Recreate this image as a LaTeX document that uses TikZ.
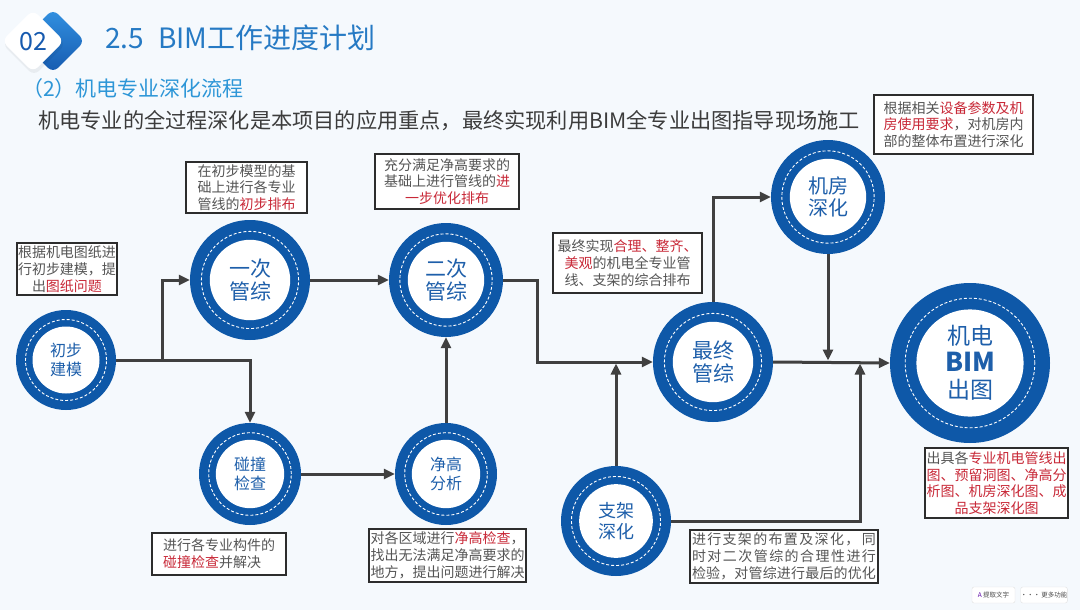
\documentclass[tikz,border=0pt]{standalone}
\usepackage{fontspec}
\setmainfont{Noto Sans CJK SC}
\usetikzlibrary{arrows.meta,calc}
\definecolor{bgcol}{RGB}{245,249,253}
\definecolor{ringblue}{RGB}{14,88,168}
\definecolor{circtext}{RGB}{30,95,170}
\definecolor{titleblue}{RGB}{38,122,196}
\definecolor{subblue}{RGB}{45,150,215}
\definecolor{subgray}{RGB}{60,60,60}
\definecolor{boxtext}{RGB}{85,85,85}
\definecolor{boxline}{RGB}{45,45,45}
\definecolor{hired}{RGB}{200,40,55}
\definecolor{conncol}{RGB}{64,64,64}
\definecolor{logoA}{RGB}{50,145,225}
\definecolor{logoB}{RGB}{22,90,175}
\newcommand{\redt}[1]{\textcolor{hired}{#1}}
\newcommand{\spreadln}[1]{\makebox[184pt][s]{#1}}
\tikzset{
  ring/.style={circle, fill=ringblue, inner sep=0pt, minimum size={2*#1*1pt},
    text=circtext, align=center,
    path picture={
      \fill[white] (path picture bounding box.center) circle[radius={0.67*#1*1pt}];
      \draw[white, line width=0.9pt, dash pattern=on 3pt off 2pt]
        (path picture bounding box.center) circle[radius={0.81*#1*1pt}];
    }},
  tbox/.style={draw=boxline, line width=1.2pt, fill=white, text=boxtext,
    font=\fontsize{14}{16.7}\selectfont, inner sep=1pt, align=center},
  arr/.style={draw=conncol, line width=3pt,
    -{Triangle[length=11pt,width=10pt]}, color=conncol},
  btn/.style={draw=black!12, fill=white, rounded corners=2pt, minimum width=43pt,
    minimum height=16pt, inner sep=0pt, text=black!70, font=\fontsize{6.5}{7}\selectfont}
}
\begin{document}
\begin{tikzpicture}[x=1pt,y=-1pt]
\useasboundingbox (0,0) rectangle (1080,610);
\fill[bgcol] (0,0) rectangle (1080,610);

% logo
\node[rectangle, rounded corners=7pt, minimum size=45pt, rotate=45,
      top color=logoA, bottom color=logoB] (logoback) at (53,41) {};
\node[rectangle, rounded corners=7pt, minimum size=45pt, rotate=45,
      fill=black, opacity=0.05] (logoshadow) at (34,44) {};
\node[rectangle, rounded corners=7pt, minimum size=44pt, rotate=45,
      fill=white] (logofront) at (33,41) {};
\node[text=logoB, font=\fontsize{25}{25}\selectfont, inner sep=0pt] (num) at (33,42) {02};

% headings
\node[anchor=west, text=titleblue, font=\fontsize{28}{28}\selectfont, inner sep=0pt]
  (title) at (105,38) {2.5\hspace{0.5em}BIM工作进度计划};
\node[anchor=west, text=subblue, font=\fontsize{21}{21}\selectfont, inner sep=0pt]
  (sec) at (22,89) {（2）机电专业深化流程};
\node[anchor=west, text=subgray, font=\fontsize{21.2}{21.2}\selectfont, inner sep=0pt]
  (lead) at (38,121) {机电专业的全过程深化是本项目的应用重点，最终实现利用BIM全专业出图指导现场施工};

% circles
\node[ring=50, font=\fontsize{16}{19}\selectfont] (chubu) at (66,360) {初步\\建模};
\node[ring=60, font=\fontsize{21}{23}\selectfont] (yici) at (250,280) {一次\\管综};
\node[ring=57, font=\fontsize{21}{23}\selectfont] (erci) at (446,280) {二次\\管综};
\node[ring=60, font=\fontsize{21}{23}\selectfont] (zuizhong) at (713,362) {最终\\管综};
\node[ring=57, font=\fontsize{20}{22}\selectfont] (jifang) at (828,197) {机房\\深化};
\node[ring=80, font=\fontsize{23}{27}\selectfont] (bim) at (970,363)
  {机电\\{\fontsize{26}{27}\selectfont\bfseries BIM}\\出图};
\node[ring=51, font=\fontsize{16}{19}\selectfont] (pengzhuang) at (250,474) {碰撞\\检查};
\node[ring=51, font=\fontsize{16}{19}\selectfont] (jinggao) at (446,474) {净高\\分析};
\node[ring=55, font=\fontsize{18}{21}\selectfont] (zhijia) at (616,521) {支架\\深化};

% junction on the main line before the final drawing
\coordinate (jb) at (860,362);

% connectors
\draw[arr] (chubu.east) -- ++(46,0) |- (yici.west);
\draw[arr] (chubu.east) -| (pengzhuang.north);
\draw[arr] (yici.east) -- (erci.west);
\draw[arr] (pengzhuang.east) -- (jinggao.west);
\draw[arr] (jinggao.north) -- (erci.south);
\draw[arr] (erci.east) -- ++(34,0) |- (zuizhong.west);
\draw[arr] (zhijia.north) -- ($(zhijia.north |- zuizhong.west)+(0,1.5)$);
\draw[arr] (zuizhong.north) |- (jifang.west);
\draw[arr] (jifang.south) -- ($(jifang.south |- zuizhong.east)+(0,-1.5)$);
\draw[arr] (zuizhong.east) -- (bim.west);
\draw[arr] (zhijia.east) -| ($(jb)+(0,1.5)$);

% text boxes
\node[tbox, minimum width=100pt, minimum height=52pt, text width=98pt] (t1) at (67,269)
  {根据机电图纸进\\行初步建模，提\\出\redt{图纸问题}};
\node[tbox, minimum width=121pt, minimum height=51pt, text width=119pt] (t2) at (246.5,187.5)
  {在初步模型的基\\础上进行各专业\\管线的\redt{初步排布}};
\node[tbox, minimum width=144pt, minimum height=55pt, text width=142pt] (t3) at (447,181.5)
  {充分满足净高要求的\\基础上进行管线的\redt{进}\\\redt{一步优化排布}};
\node[tbox, minimum width=149pt, minimum height=60pt, text width=147pt] (t4) at (627.5,263)
  {最终实现\redt{合理、整齐、}\\\redt{美观}的机电全专业管\\线、支架的综合排布};
\node[tbox, minimum width=159pt, minimum height=59pt, text width=157pt] (t5) at (953.5,124.5)
  {根据相关\redt{设备参数及机}\\\redt{房使用要求}，对机房内\\部的整体布置进行深化};
\node[tbox, minimum width=134pt, minimum height=42pt, text width=112pt, align=left] (t6) at (219,554)
  {进行各专业构件的\\\redt{碰撞检查}并解决};
\node[tbox, minimum width=157pt, minimum height=53pt, text width=155pt] (t7) at (447.5,555.5)
  {对各区域进行\redt{净高检查}，\\找出无法满足净高要求的\\地方，提出问题进行解决};
\node[tbox, minimum width=188pt, minimum height=53pt, text width=186pt] (t8) at (784,556.5)
  {\spreadln{进\hfil 行\hfil 支\hfil 架\hfil 的\hfil 布\hfil 置\hfil 及\hfil 深\hfil 化\hfil ，\hfil\hfil 同}\\
   \spreadln{时\hfil 对\hfil 二\hfil 次\hfil 管\hfil 综\hfil 的\hfil 合\hfil 理\hfil 性\hfil 进\hfil 行}\\
   \spreadln{检\hfil 验\hfil ，\hfil 对\hfil 管\hfil 综\hfil 进\hfil 行\hfil 最\hfil 后\hfil 的\hfil 优\hfil 化}};
\node[tbox, minimum width=143pt, minimum height=70pt, text width=141pt] (t9) at (996.5,483)
  {出具各\redt{专业机电管线出}\\\redt{图、预留洞图、净高分}\\\redt{析图、机房深化图、成}\\\redt{品支架深化图}};

% viewer buttons
\node[btn] (btn1) at (993.5,595) {\textcolor{violet!70!blue}{A}\,提取文字};
\node[btn] (btn2) at (1044,595) {···\,更多功能};
\end{tikzpicture}
\end{document}
